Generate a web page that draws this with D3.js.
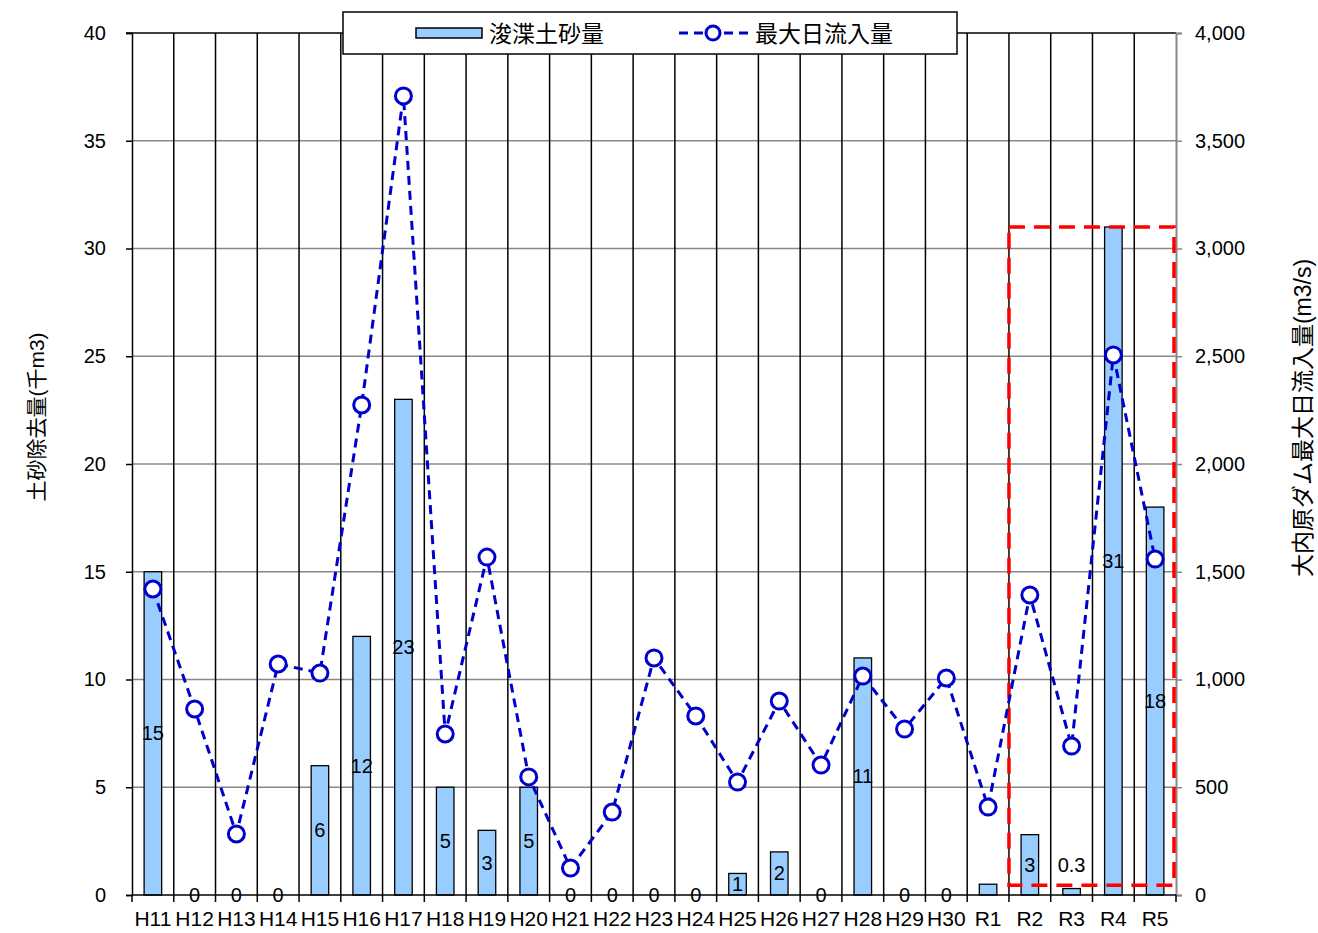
<!DOCTYPE html>
<html><head><meta charset="utf-8">
<script src="https://cdn.jsdelivr.net/npm/d3@7"></script>
<style>
html,body{margin:0;padding:0;background:#fff;}
svg text{font-family:"Liberation Sans","Noto Sans CJK JP",sans-serif;fill:#000;}
</style></head>
<body><svg id="c" width="1318" height="933"></svg>
<script>
const categories = ["H11","H12","H13","H14","H15","H16","H17","H18","H19","H20","H21","H22","H23","H24","H25","H26","H27","H28","H29","H30","R1","R2","R3","R4","R5"];
const sediment = [15,0,0,0,6,12,23,5,3,5,0,0,0,0,1,2,0,11,0,0,0.5,2.8,0.3,31,18];
const sedimentLabels = ["15","0","0","0","6","12","23","5","3","5","0","0","0","0","1","2","0","11","0","0","","3","0.3","31","18"];
const inflow = [1420,863,283,1072,1030,2274,3708,747,1568,548,125,385,1100,831,524,900,603,1016,770,1007,408,1392,691,2506,1559];
const leftTicks = [0,5,10,15,20,25,30,35,40];
const rightTicks = [0,500,1000,1500,2000,2500,3000,3500,4000];
const highlight = {from:"R2", top:31, bottom:0.45};
const seriesNames = ["浚渫土砂量","最大日流入量"];
const leftTitle = "土砂除去量(千m3)";
const rightTitle = "大内原ダム最大日流入量(m3/s)";

const svg = d3.select("#c");
const L=132, R=1176, T=33, B=895;
const x = d3.scaleBand().domain(categories).range([L,R]).paddingInner(0.58).paddingOuter(0.29);
const step = x.step();
const yL = d3.scaleLinear().domain([0,40]).range([B,T]);
const yR = d3.scaleLinear().domain([0,4000]).range([B,T]);

// horizontal gridlines
svg.append("g").selectAll("line").data(leftTicks.filter(d=>d>0&&d<40)).join("line")
  .attr("x1",L).attr("x2",R).attr("y1",d=>yL(d)).attr("y2",d=>yL(d))
  .attr("stroke","#888").attr("stroke-width",1.5);
// top line
svg.append("line").attr("x1",L-6).attr("x2",R).attr("y1",yL(40)).attr("y2",yL(40)).attr("stroke","#000").attr("stroke-width",1.5);
// vertical category separators
svg.append("g").selectAll("line").data(categories.slice(1)).join("line")
  .attr("x1",d=>x(d)-step*0.29).attr("x2",d=>x(d)-step*0.29)
  .attr("y1",T).attr("y2",B).attr("stroke","#000").attr("stroke-width",1.5);

// bars
svg.append("g").selectAll("rect").data(categories).join("rect")
  .attr("x",d=>x(d)).attr("width",x.bandwidth())
  .attr("y",(d,i)=>yL(sediment[i])).attr("height",(d,i)=>B-yL(sediment[i]))
  .attr("fill",(d,i)=>sediment[i]>0?"#99CCFF":"none").attr("stroke",(d,i)=>sediment[i]>0?"#000":"none").attr("stroke-width",1.3);

// left axis
const gl = svg.append("g").attr("transform",`translate(${L},0)`)
  .call(d3.axisLeft(yL).tickValues(leftTicks).tickSize(6).tickPadding(20));
gl.select(".domain").attr("stroke","#000").attr("stroke-width",1.5);
gl.selectAll(".tick line").attr("stroke","#000").attr("stroke-width",1.5);
gl.selectAll(".tick text").attr("font-size",20).attr("font-family",null);

// right axis
const gr = svg.append("g").attr("transform",`translate(${R},0)`)
  .call(d3.axisRight(yR).tickValues(rightTicks).tickSize(6).tickPadding(13).tickFormat(d3.format(",")));
gr.select(".domain").attr("stroke","#888").attr("stroke-width",2);
gr.selectAll(".tick line").attr("stroke","#888").attr("stroke-width",1.5);
gr.selectAll(".tick text").attr("font-size",20).attr("font-family",null);

// x axis
svg.append("line").attr("x1",L).attr("x2",R).attr("y1",B).attr("y2",B).attr("stroke","#000").attr("stroke-width",1.5);
svg.append("g").selectAll("line").data(categories.concat(["__end"])).join("line")
  .attr("x1",(d,i)=>L+i*step).attr("x2",(d,i)=>L+i*step)
  .attr("y1",B).attr("y2",B+7).attr("stroke","#000").attr("stroke-width",1.5);
svg.append("g").selectAll("text").data(categories).join("text")
  .attr("x",d=>x(d)+x.bandwidth()/2).attr("y",B+31).attr("text-anchor","middle")
  .attr("font-size",21).text(d=>d);

// red highlight box
const hx0 = x(highlight.from)-step*0.29;
svg.append("rect").attr("x",hx0).attr("y",yL(highlight.top))
  .attr("width",R-2-hx0).attr("height",yL(highlight.bottom)-yL(highlight.top))
  .attr("fill","none").attr("stroke","#FF0000").attr("stroke-width",3.5).attr("stroke-dasharray","16,9");

// bar labels
svg.append("g").selectAll("text").data(categories).join("text")
  .attr("x",d=>x(d)+x.bandwidth()/2)
  .attr("y",(d,i)=>{ const v = d==="R3" ? 2.8 : sediment[i]; return yL(v/2)+7; })
  .attr("text-anchor","middle").attr("font-size",20)
  .text((d,i)=>sedimentLabels[i]);

// line
const cx = d=>x(d)+x.bandwidth()/2;
const line = d3.line().x((d,i)=>cx(categories[i])).y(d=>yR(d));
svg.append("path").datum(inflow).attr("d",line).attr("fill","none")
  .attr("stroke","#0000CC").attr("stroke-width",3).attr("stroke-dasharray","9,6");
svg.append("g").selectAll("circle").data(inflow).join("circle")
  .attr("cx",(d,i)=>cx(categories[i])).attr("cy",d=>yR(d)).attr("r",8)
  .attr("fill","#fff").attr("stroke","#0000CC").attr("stroke-width",3);

// legend
const lg = svg.append("g");
lg.append("rect").attr("x",343).attr("y",12).attr("width",614).attr("height",42)
  .attr("fill","#fff").attr("stroke","#000").attr("stroke-width",1.5);
lg.append("rect").attr("x",416).attr("y",28).attr("width",66).attr("height",10)
  .attr("fill","#99CCFF").attr("stroke","#000").attr("stroke-width",1.5);
lg.append("text").attr("x",489).attr("y",42).attr("font-size",23).text(seriesNames[0]);
lg.append("line").attr("x1",679).attr("x2",748).attr("y1",33).attr("y2",33)
  .attr("stroke","#0000CC").attr("stroke-width",3).attr("stroke-dasharray","9,6");
lg.append("circle").attr("cx",713).attr("cy",33).attr("r",7)
  .attr("fill","#fff").attr("stroke","#0000CC").attr("stroke-width",3);
lg.append("text").attr("x",755).attr("y",42).attr("font-size",23).text(seriesNames[1]);

// axis titles
svg.append("text").attr("transform",`translate(44,417) rotate(-90)`)
  .attr("text-anchor","middle").attr("font-size",21).text(leftTitle);
svg.append("text").attr("transform",`translate(1311,418) rotate(-90)`)
  .attr("text-anchor","middle").attr("font-size",23).text(rightTitle);
</script></body></html>
